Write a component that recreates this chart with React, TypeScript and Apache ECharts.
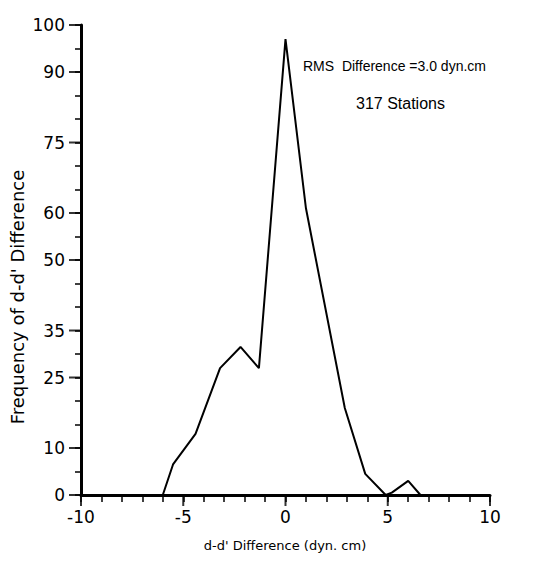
import React, { useEffect, useRef } from "react";
import * as echarts from "echarts";

// Frequency polygon of d-d' differences (dyn. cm)
const diffValues = [-6, -5.5, -4.4, -3.2, -2.2, -1.3, 0, 1, 2.9, 3.9, 4.9, 5.2, 6, 6.6];
const frequencies = [0, 6.5, 13, 27, 31.5, 27, 97, 61, 18.5, 4.5, 0, 0.5, 3, 0];
const yTickLabels = [0, 10, 25, 35, 50, 60, 75, 90, 100];
const xTickLabels = [-10, -5, 0, 5, 10];
const annotationLines = ["RMS  Difference =3.0 dyn.cm", "317 Stations"];
const xTitle = "d-d' Difference (dyn. cm)";
const yTitle = "Frequency of d-d' Difference";

const FONT = "DejaVu Sans";

export default function App() {
  const ref = useRef<HTMLDivElement>(null);
  useEffect(() => {
    if (!ref.current) return;
    const chart = echarts.init(ref.current, undefined, { renderer: "svg" });
    const grid = { left: 81, right: 68, top: 25, bottom: 74 };
    chart.setOption({
      animation: false,
      backgroundColor: "#ffffff",
      grid,
      xAxis: [
        {
          type: "value",
          min: -10,
          max: 10,
          interval: 1,
          position: "bottom",
          axisLine: { show: true, onZero: false, lineStyle: { color: "#000", width: 3 } },
          axisTick: { show: true, length: 7, lineStyle: { color: "#000", width: 1.5 } },
          axisLabel: {
            show: true,
            margin: 13,
            fontFamily: FONT,
            fontSize: 17,
            color: "#000",
            formatter: (v: number) => (xTickLabels.includes(v) ? String(v) : ""),
          },
          splitLine: { show: false },
        },
      ],
      yAxis: [
        {
          type: "value",
          min: 0,
          max: 100,
          interval: 5,
          position: "left",
          axisLine: { show: true, onZero: false, lineStyle: { color: "#000", width: 3 } },
          axisTick: { show: true, length: 6, lineStyle: { color: "#000", width: 1.5 } },
          axisLabel: {
            show: true,
            margin: 16,
            fontFamily: FONT,
            fontSize: 17,
            color: "#000",
            formatter: (v: number) => (yTickLabels.includes(v) ? String(v) : ""),
          },
          splitLine: { show: false },
        },
      ],
      series: [
        {
          type: "line",
          data: diffValues.map((x, i) => [x, frequencies[i]]),
          showSymbol: false,
          symbol: "none",
          lineStyle: { color: "#000", width: 2 },
          z: 3,
        },
        {
          type: "scatter",
          silent: true,
          clip: false,
          data: yTickLabels.map((v) => [-10, v]),
          symbol: "rect",
          symbolSize: [12, 2],
          symbolOffset: [-6, 0],
          itemStyle: { color: "#000" },
          z: 4,
        },
        {
          type: "scatter",
          silent: true,
          clip: false,
          data: xTickLabels.map((v) => [v, 0]),
          symbol: "rect",
          symbolSize: [2, 11],
          symbolOffset: [0, 5.5],
          itemStyle: { color: "#000" },
          z: 4,
        },
      ],
      graphic: [
        {
          type: "text",
          left: 303,
          top: 59,
          style: {
            text: annotationLines[0],
            font: "14px 'Liberation Sans'",
            fill: "#000",
          },
        },
        {
          type: "text",
          left: 356,
          top: 95,
          style: {
            text: annotationLines[1],
            font: "16px 'Liberation Sans'",
            fill: "#000",
          },
        },
        {
          type: "text",
          x: 285,
          y: 545,
          style: {
            text: xTitle,
            font: `13px '${FONT}'`,
            fill: "#000",
            align: "center",
            verticalAlign: "middle",
          },
        },
        {
          type: "text",
          x: 17,
          y: 297,
          rotation: Math.PI / 2,
          style: {
            text: yTitle,
            font: `18px '${FONT}'`,
            fill: "#000",
            align: "center",
            verticalAlign: "middle",
          },
        },
      ],
    });
    return () => chart.dispose();
  }, []);
  return (
    <div
      ref={ref}
      style={{ position: "fixed", left: 0, top: 0, width: 558, height: 569, background: "#fff" }}
    />
  );
}
